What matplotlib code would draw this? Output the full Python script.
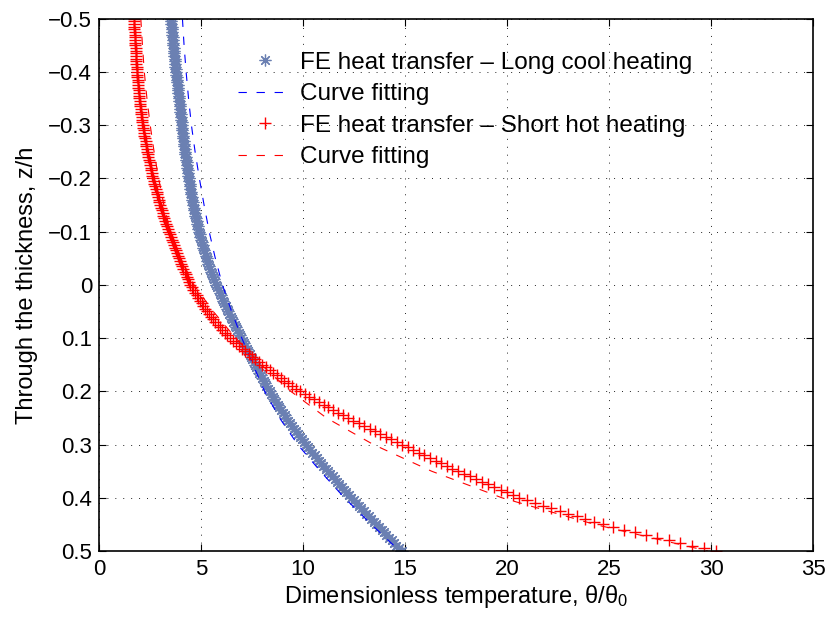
import matplotlib
matplotlib.use("Agg")
import matplotlib.pyplot as plt

# through-thickness positions of the FE nodes (z/h)
z_fe = [
    -0.500, -0.495, -0.490, -0.485, -0.480, -0.475, -0.470, -0.465, -0.460, -0.455,
    -0.450, -0.445, -0.440, -0.435, -0.430, -0.425, -0.420, -0.415, -0.410, -0.405,
    -0.400, -0.395, -0.390, -0.385, -0.380, -0.375, -0.370, -0.365, -0.360, -0.355,
    -0.350, -0.345, -0.340, -0.335, -0.330, -0.325, -0.320, -0.315, -0.310, -0.305,
    -0.300, -0.295, -0.290, -0.285, -0.280, -0.275, -0.270, -0.265, -0.260, -0.255,
    -0.250, -0.245, -0.240, -0.235, -0.230, -0.225, -0.220, -0.215, -0.210, -0.205,
    -0.200, -0.195, -0.190, -0.185, -0.180, -0.175, -0.170, -0.165, -0.160, -0.155,
    -0.150, -0.145, -0.140, -0.135, -0.130, -0.125, -0.120, -0.115, -0.110, -0.105,
    -0.100, -0.095, -0.090, -0.085, -0.080, -0.075, -0.070, -0.065, -0.060, -0.055,
    -0.050, -0.045, -0.040, -0.035, -0.030, -0.025, -0.020, -0.015, -0.010, -0.005,
    0.000, 0.005, 0.010, 0.015, 0.020, 0.025, 0.030, 0.035, 0.040, 0.045,
    0.050, 0.055, 0.060, 0.065, 0.070, 0.075, 0.080, 0.085, 0.090, 0.095,
    0.100, 0.105, 0.110, 0.115, 0.120, 0.125, 0.130, 0.135, 0.140, 0.145,
    0.150, 0.155, 0.160, 0.165, 0.170, 0.175, 0.180, 0.185, 0.190, 0.195,
    0.200, 0.205, 0.210, 0.215, 0.220, 0.225, 0.230, 0.235, 0.240, 0.245,
    0.250, 0.255, 0.260, 0.265, 0.270, 0.275, 0.280, 0.285, 0.290, 0.295,
    0.300, 0.305, 0.310, 0.315, 0.320, 0.325, 0.330, 0.335, 0.340, 0.345,
    0.350, 0.355, 0.360, 0.365, 0.370, 0.375, 0.380, 0.385, 0.390, 0.395,
    0.400, 0.405, 0.410, 0.415, 0.420, 0.425, 0.430, 0.435, 0.440, 0.445,
    0.450, 0.455, 0.460, 0.465, 0.470, 0.475, 0.480, 0.485, 0.490, 0.495,
    0.500,
]

# FE heat transfer - long cool heating
theta_long = [
    3.52, 3.535, 3.55, 3.56, 3.57, 3.585, 3.60, 3.61, 3.62, 3.635,
    3.65, 3.665, 3.68, 3.69, 3.70, 3.715, 3.73, 3.74, 3.75, 3.765,
    3.78, 3.795, 3.81, 3.825, 3.84, 3.85, 3.86, 3.875, 3.89, 3.905,
    3.92, 3.935, 3.95, 3.965, 3.98, 3.99, 4.00, 4.015, 4.03, 4.045,
    4.06, 4.075, 4.09, 4.105, 4.12, 4.135, 4.15, 4.17, 4.19, 4.205,
    4.22, 4.235, 4.25, 4.27, 4.29, 4.305, 4.32, 4.34, 4.36, 4.38,
    4.40, 4.42, 4.44, 4.46, 4.48, 4.505, 4.53, 4.55, 4.57, 4.595,
    4.62, 4.645, 4.67, 4.70, 4.73, 4.755, 4.78, 4.81, 4.84, 4.87,
    4.90, 4.935, 4.97, 5.005, 5.04, 5.075, 5.11, 5.15, 5.19, 5.23,
    5.27, 5.315, 5.36, 5.405, 5.45, 5.50, 5.55, 5.60, 5.65, 5.70,
    5.75, 5.805, 5.86, 5.915, 5.97, 6.03, 6.09, 6.15, 6.21, 6.27,
    6.33, 6.395, 6.46, 6.525, 6.59, 6.655, 6.72, 6.785, 6.85, 6.915,
    6.98, 7.045, 7.11, 7.175, 7.24, 7.31, 7.38, 7.445, 7.51, 7.58,
    7.65, 7.72, 7.79, 7.86, 7.93, 8.00, 8.07, 8.14, 8.21, 8.285,
    8.36, 8.44, 8.52, 8.60, 8.68, 8.76, 8.84, 8.925, 9.01, 9.095,
    9.18, 9.275, 9.37, 9.465, 9.56, 9.655, 9.75, 9.85, 9.95, 10.05,
    10.15, 10.255, 10.36, 10.465, 10.57, 10.675, 10.78, 10.89, 11.00, 11.11,
    11.22, 11.335, 11.45, 11.56, 11.67, 11.785, 11.90, 12.015, 12.13, 12.245,
    12.36, 12.485, 12.61, 12.735, 12.86, 12.98, 13.10, 13.225, 13.35, 13.475,
    13.60, 13.725, 13.85, 13.97, 14.09, 14.215, 14.34, 14.46, 14.58, 14.705,
    14.83,
]

# FE heat transfer - short hot heating
theta_short = [
    1.72, 1.725, 1.73, 1.735, 1.74, 1.745, 1.75, 1.76, 1.77, 1.775,
    1.78, 1.79, 1.80, 1.805, 1.81, 1.82, 1.83, 1.835, 1.84, 1.85,
    1.86, 1.87, 1.88, 1.89, 1.90, 1.915, 1.93, 1.94, 1.95, 1.965,
    1.98, 1.995, 2.01, 2.025, 2.04, 2.06, 2.08, 2.095, 2.11, 2.13,
    2.15, 2.17, 2.19, 2.21, 2.23, 2.255, 2.28, 2.30, 2.32, 2.345,
    2.37, 2.395, 2.42, 2.45, 2.48, 2.505, 2.53, 2.56, 2.59, 2.62,
    2.65, 2.685, 2.72, 2.755, 2.79, 2.825, 2.86, 2.895, 2.93, 2.965,
    3.00, 3.04, 3.08, 3.12, 3.16, 3.205, 3.25, 3.29, 3.33, 3.375,
    3.42, 3.47, 3.52, 3.57, 3.62, 3.67, 3.72, 3.77, 3.82, 3.87,
    3.92, 3.975, 4.03, 4.085, 4.14, 4.195, 4.25, 4.305, 4.36, 4.42,
    4.48, 4.555, 4.63, 4.71, 4.79, 4.87, 4.95, 5.035, 5.12, 5.21,
    5.30, 5.40, 5.50, 5.605, 5.71, 5.82, 5.93, 6.045, 6.16, 6.28,
    6.40, 6.55, 6.70, 6.855, 7.01, 7.17, 7.33, 7.495, 7.66, 7.83,
    8.00, 8.18, 8.36, 8.54, 8.72, 8.905, 9.09, 9.28, 9.47, 9.66,
    9.85, 10.08, 10.31, 10.54, 10.77, 11.005, 11.24, 11.48, 11.72, 11.96,
    12.20, 12.465, 12.73, 12.995, 13.26, 13.525, 13.79, 14.055, 14.32, 14.585,
    14.85, 15.125, 15.40, 15.675, 15.95, 16.225, 16.50, 16.775, 17.05, 17.325,
    17.60, 17.895, 18.19, 18.485, 18.78, 19.08, 19.38, 19.685, 19.99, 20.295,
    20.60, 20.99, 21.38, 21.78, 22.18, 22.585, 22.99, 23.41, 23.83, 24.265,
    24.70, 25.215, 25.73, 26.265, 26.80, 27.36, 27.92, 28.495, 29.07, 29.66,
    30.25,
]

# curve fitting
z_fit = [-0.50, -0.45, -0.40, -0.35, -0.30, -0.25, -0.20, -0.15, -0.10, -0.05,
         0.00, 0.05, 0.10, 0.15, 0.20, 0.25, 0.30, 0.35, 0.40, 0.45, 0.50]
fit_long = [4.09, 4.17, 4.27, 4.39, 4.53, 4.71, 4.92, 5.15, 5.40, 5.70,
            6.05, 6.50, 7.00, 7.55, 8.12, 8.85, 9.74, 10.85, 12.03, 13.35, 14.74]
fit_short = [2.05, 2.13, 2.22, 2.35, 2.51, 2.70, 2.92, 3.18, 3.50, 3.98,
             4.65, 5.60, 6.70, 7.95, 9.40, 11.15, 13.45, 16.30, 19.75, 24.30, 29.85]

labels = ["FE heat transfer \u2013 Long cool heating", "Curve fitting",
          "FE heat transfer \u2013 Short hot heating", "Curve fitting"]

x_ticks = [0, 5, 10, 15, 20, 25, 30, 35]
y_ticks = [-0.5, -0.4, -0.3, -0.2, -0.1, 0, 0.1, 0.2, 0.3, 0.4, 0.5]
y_tick_labels = ["\u22120.5", "\u22120.4", "\u22120.3", "\u22120.2", "\u22120.1", "0",
                 "0.1", "0.2", "0.3", "0.4", "0.5"]

plt.rcParams["font.family"] = ["Liberation Sans", "DejaVu Sans"]
plt.rcParams["mathtext.fontset"] = "custom"
plt.rcParams["mathtext.rm"] = "Liberation Sans"
plt.rcParams["mathtext.default"] = "regular"
plt.rcParams["lines.scale_dashes"] = False

fig = plt.figure(figsize=(8.27, 6.22), dpi=100)
ax = fig.add_axes([0.1197, 0.1141, 0.8634, 0.856])

blue_marker = "#6b80b2"
asterisk = (8, 2, 0)  # MATLAB-like '*' (plus and cross overlaid)

ax.plot(theta_long, z_fe, linestyle="none", marker=asterisk, ms=8.5,
        mec=blue_marker, mew=0.9, color=blue_marker, label=labels[0])
ax.plot(fit_long, z_fit, color="blue", lw=0.8, dashes=(6, 7), label=labels[1])
ax.plot(theta_short, z_fe, linestyle="none", marker="+", ms=8.5,
        mec="red", mew=1.0, color="red", label=labels[2])
ax.plot(fit_short, z_fit, color="red", lw=0.8, dashes=(6, 7), label=labels[3])

ax.set_xlim(0, 35)
ax.set_ylim(0.5, -0.5)
ax.set_xticks(x_ticks)
ax.set_yticks(y_ticks, labels=y_tick_labels)

ax.grid(True, color="black", lw=0.6, dashes=(0.7, 5.0))
ax.set_axisbelow(True)
for s in ax.spines.values():
    s.set_linewidth(1.2)
ax.tick_params(direction="in", length=5, width=0.8, top=True, right=True,
               labelsize=16)
ax.tick_params(axis="x", pad=6)
ax.tick_params(axis="y", pad=5)

ax.set_xlabel("Dimensionless temperature, \u03b8/\u03b8$_0$", fontsize=17, labelpad=2)
ax.set_ylabel("Through the thickness, z/h", fontsize=17, labelpad=7)

leg = ax.legend(loc="upper left", bbox_to_anchor=(0.2878, 0.917),
                bbox_transform=fig.transFigure, frameon=False, fontsize=17.5,
                numpoints=1, handlelength=2.2, handletextpad=0.35,
                labelspacing=0.39, borderpad=0, borderaxespad=0)

fig.savefig("out.png", dpi=100)
